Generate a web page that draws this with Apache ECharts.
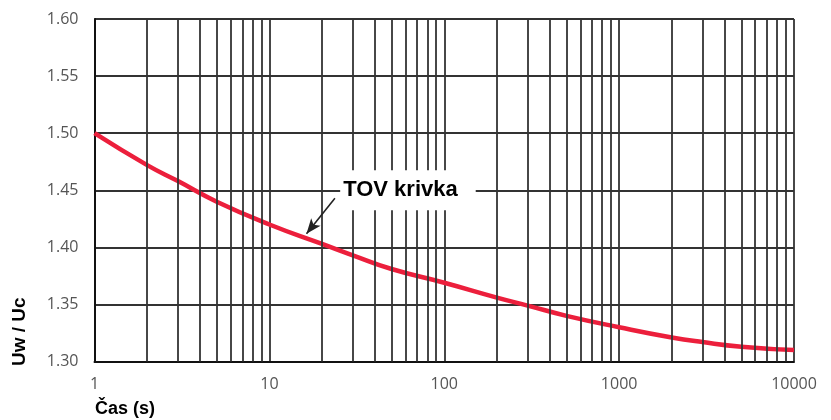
<!DOCTYPE html>
<html>
<head>
<meta charset="utf-8">
<script src="https://cdn.jsdelivr.net/npm/echarts@6/dist/echarts.min.js"></script>
<style>html,body{margin:0;padding:0;background:#fff}#c{width:831px;height:420px}</style>
</head>
<body>
<div id="c"></div>
<script>
// Data
var times = [1, 2, 3, 5, 10, 20, 30, 50, 100, 200, 300, 500, 1000, 2000, 3000, 5000, 10000];
var ratios = [1.500, 1.472, 1.458, 1.440, 1.420, 1.403, 1.393, 1.381, 1.369, 1.356, 1.349, 1.340, 1.330, 1.321, 1.317, 1.313, 1.310];
var minorGridX = [2,3,4,5,6,7,8,9,20,30,40,50,60,70,80,90,200,300,400,500,600,700,800,900,2000,3000,4000,5000,6000,7000,8000,9000];
var curveLabel = 'TOV krivka';
var labelPos = [62, 1.450];
var arrowFrom = [23.7, 1.443];
var arrowTo = [16.3, 1.412];
var xName = 'Čas (s)';
var yName = 'Uw / Uc';

var chart = echarts.init(document.getElementById('c'));
var gridColor = '#333';
var gridW = 1.8;
chart.setOption({
  animation: false,
  grid: {left: 94.5, right: 37, top: 19, bottom: 58.5},
  xAxis: {
    type: 'log', logBase: 10, min: 1, max: 10000,
    axisLine: {show: true, lineStyle: {color: '#111', width: 2}},
    axisTick: {show: false},
    splitLine: {show: true, lineStyle: {color: gridColor, width: gridW}},
    axisLabel: {color: '#555', fontFamily: 'Open Sans', fontSize: 16, margin: 15,
      formatter: function(v){ return String(Math.round(v)); }}
  },
  yAxis: {
    type: 'value', min: 1.30, max: 1.60, interval: 0.05,
    axisLine: {show: true, lineStyle: {color: '#111', width: 2}},
    axisTick: {show: false},
    splitLine: {show: true, lineStyle: {color: gridColor, width: gridW}},
    axisLabel: {color: '#555', fontFamily: 'Open Sans', fontSize: 16, margin: 16,
      formatter: function(v){ return v.toFixed(2); }}
  },
  graphic: [
    {type: 'text', left: 95, top: 400, style: {text: xName, font: 'bold 18px "Liberation Sans", Arial', fill: '#000'}},
    {type: 'text', x: 10, y: 366, rotation: Math.PI/2, style: {text: yName, font: 'bold 19px "Liberation Sans", Arial', fill: '#000'}}
  ],
  series: [
    {
      type: 'line', data: [], z: 1, silent: true,
      markLine: {
        silent: true, symbol: ['none','none'], animation: false,
        label: {show: false},
        lineStyle: {color: gridColor, width: gridW, type: 'solid'},
        data: minorGridX.map(function(v){ return {xAxis: v}; })
      }
    },
    {
      type: 'line', z: 3,
      data: times.map(function(t, i){ return [t, ratios[i]]; }),
      smooth: 0.5, showSymbol: false, symbol: 'none',
      lineStyle: {color: '#ec1f3c', width: 4.5}
    },
    {
      type: 'line', data: [], z: 5, silent: true,
      markPoint: {
        silent: true, animation: false, symbol: 'rect', symbolSize: 1,
        itemStyle: {color: 'rgba(0,0,0,0)'},
        label: {show: true, position: 'inside', formatter: curveLabel,
          fontFamily: '"Liberation Sans", Arial', fontWeight: 'bold', fontSize: 22, color: '#000',
          backgroundColor: '#fff', padding: [9, 18, 9, 3]},
        data: [{coord: labelPos}]
      },
      markLine: {
        silent: true, animation: false, label: {show: false},
        symbol: ['none', 'arrow'], symbolSize: [9, 15],
        lineStyle: {color: '#222', width: 1.6, type: 'solid'},
        data: [[{coord: arrowFrom}, {coord: arrowTo}]]
      }
    }
  ]
});
</script>
</body>
</html>
